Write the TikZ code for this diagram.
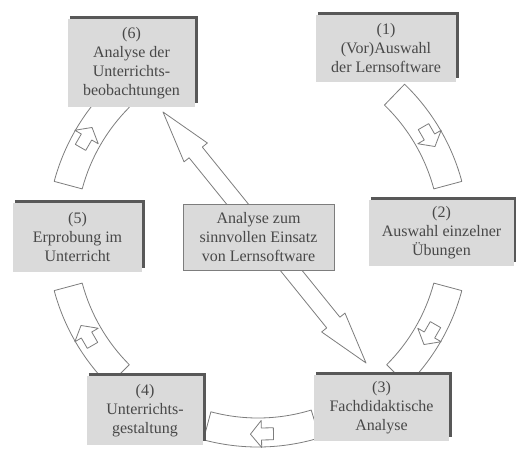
\documentclass[tikz,border=0pt]{standalone}
\usepackage{fontspec}
\setmainfont{Liberation Serif}
\usepackage{tikz}
\definecolor{boxgray}{RGB}{218,218,218}
\definecolor{edgedark}{RGB}{88,88,88}
\definecolor{linegray}{RGB}{125,125,125}
\definecolor{txtgray}{RGB}{72,72,72}

\tikzset{
  stage/.style={fill=boxgray, text=txtgray, align=center, inner sep=2pt,
    font=\fontsize{16}{19}\selectfont},
  hub/.style={stage, draw=linegray, line width=0.8pt},
  raised/.style={edgedark, line width=3pt},
  band/.style={draw=linegray, fill=white, line width=0.8pt, line join=round},
  bigarrow/.style={draw=linegray, fill=white, line width=0.8pt, line join=round}
}

\begin{document}
\begin{tikzpicture}[x=1pt, y=1pt]
  \useasboundingbox (0,0) rectangle (516,458);
  \coordinate (ctr) at (258,222);
  % curved bands between the stages, each with a small arrow
  \foreach \a/\b/\m in {15/46/30, -45/-15/-30, -105/-73/-89, 195/225/210, 135/165/150} {
    \draw[band] ([shift={(\a:182)}]ctr) arc[start angle=\a, end angle=\b, radius=182]
      -- ([shift={(\b:211)}]ctr) arc[start angle=\b, end angle=\a, radius=211] -- cycle;
    \draw[band, shift={(ctr)}, shift={(\m:198)}, rotate=\m-90]
      (11,0) -- (0,13.5) -- (0,6) -- (-12,6) -- (-12,-6) -- (0,-6) -- (0,-13.5) -- cycle;
  }

  % long arrow under the middle box
  \coordinate (tip6) at (163,346);
  \coordinate (tip3) at (366,95);
  \draw[bigarrow, shift={(tip6)}, rotate=-51.03]
    (0,0) -- (52,15) -- (52,8.5) -- (270.8,8.5) -- (270.8,15) -- (322.8,0)
    -- (270.8,-15) -- (270.8,-8.5) -- (52,-8.5) -- (52,-15) -- cycle;

  % stages
  \node[stage, minimum width=140pt, minimum height=67pt] (s1) at (386,409.5) {(1)\\(Vor)Auswahl\\der Lernsoftware};
  \node[stage, minimum width=145pt, minimum height=66pt] (s2) at (441.5,225) {(2)\\Auswahl einzelner\\Übungen};
  \node[stage, minimum width=135pt, minimum height=66pt] (s3) at (381.5,50) {(3)\\Fachdidaktische\\Analyse};
  \node[stage, minimum width=116pt, minimum height=69pt] (s4) at (145,47.5) {(4)\\Unterrichts-\\gestaltung};
  \node[stage, minimum width=129pt, minimum height=69pt] (s5) at (77.5,220.5) {(5)\\Erprobung im\\Unterricht};
  \node[stage, minimum width=127pt, minimum height=88pt] (s6) at (131.5,395) {(6)\\Analyse der\\Unterrichts-\\beobachtungen};
  \foreach \s in {s1,s2,s3,s4,s5,s6}
    \draw[raised] ([xshift=2pt,yshift=1.5pt]\s.north west) -- ([xshift=1.5pt,yshift=1.5pt]\s.north east)
      -- ([xshift=1.5pt,yshift=4.5pt]\s.south east);

  \node[hub, minimum width=151pt, minimum height=66pt] (mid) at (258.5,221) {Analyse zum\\sinnvollen Einsatz\\von Lernsoftware};
\end{tikzpicture}
\end{document}
